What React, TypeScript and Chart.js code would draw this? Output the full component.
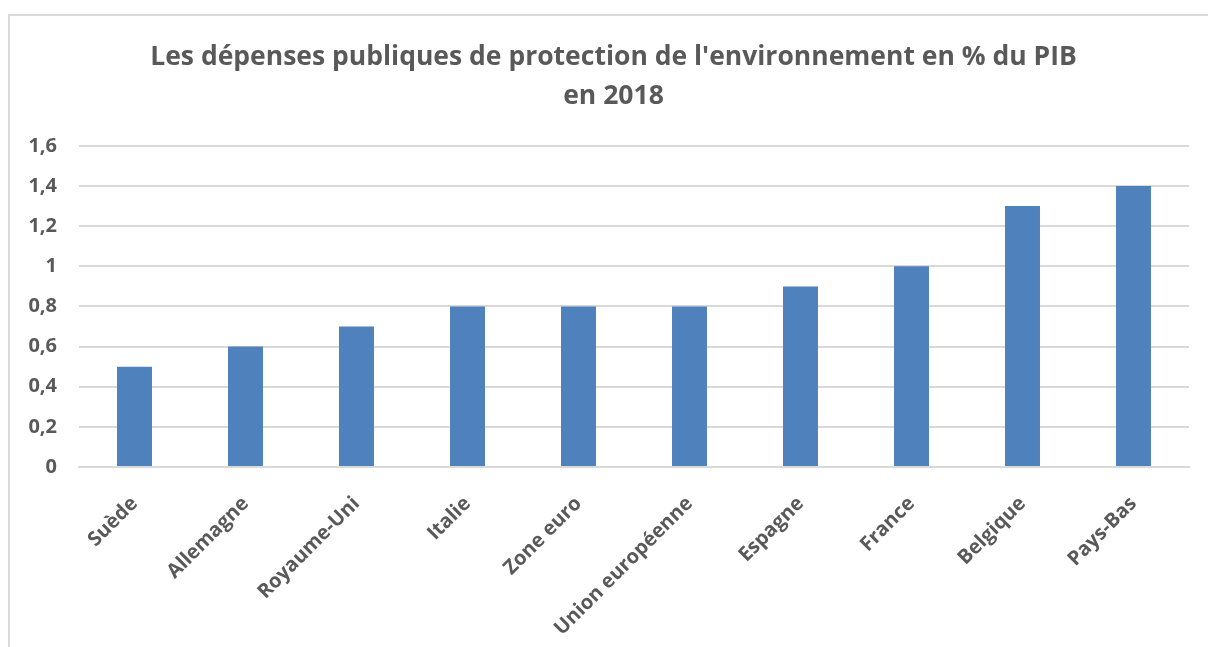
import React, { useEffect, useRef } from "react";
import { Chart, registerables } from "chart.js";

Chart.register(...registerables);

const categories = [
  "Suède",
  "Allemagne",
  "Royaume-Uni",
  "Italie",
  "Zone euro",
  "Union européenne",
  "Espagne",
  "France",
  "Belgique",
  "Pays-Bas",
];
const values = [0.5, 0.6, 0.7, 0.8, 0.8, 0.8, 0.9, 1.0, 1.3, 1.4];
const titleLines = [
  "Les dépenses publiques de protection de l'environnement en % du PIB",
  "en 2018",
];
const yMin = 0;
const yMax = 1.6;
const yStep = 0.2;

const W = 1208;
const H = 647;
const FONT = "'Open Sans', Lato, sans-serif";
const TEXT = "#595959";

const titleShift = {
  id: "titleShift",
  afterLayout(chart: any) {
    const tb = chart.titleBlock;
    if (tb) {
      tb.left = 38;
      tb.right = 1189;
    }
  },
};

export default function App() {
  const ref = useRef<HTMLCanvasElement | null>(null);

  useEffect(() => {
    document.body.style.overflow = "hidden";
    const ctx = ref.current!.getContext("2d")!;
    const chart = new Chart(ctx, {
      type: "bar",
      data: {
        labels: categories,
        datasets: [
          {
            data: values,
            backgroundColor: "#4f81bd",
            borderWidth: 0,
            categoryPercentage: 1,
            barPercentage: 0.315,
          },
        ],
      },
      plugins: [titleShift],
      options: {
        animation: false,
        responsive: false,
        devicePixelRatio: 1,
        layout: { padding: { left: 0, right: 19, top: 0, bottom: 0 } },
        plugins: {
          legend: { display: false },
          tooltip: { enabled: false },
          title: {
            display: true,
            text: titleLines,
            color: TEXT,
            font: { family: FONT, size: 26.5, weight: "bold", lineHeight: 1.47 },
            padding: { top: 38, bottom: 30 },
          },
        },
        scales: {
          x: {
            grid: { display: false, drawTicks: false },
            border: { color: "#d9d9d9", width: 2 },
            ticks: {
              color: TEXT,
              font: { family: FONT, size: 20, weight: "bold" },
              maxRotation: 45,
              minRotation: 45,
              autoSkip: false,
              padding: 25,
            },
            afterFit: (scale: any) => {
              scale.height = H - 467;
            },
          },
          y: {
            min: yMin,
            max: yMax,
            grid: { color: "#d9d9d9", lineWidth: 2, drawTicks: false },
            border: { display: false },
            ticks: {
              stepSize: yStep,
              color: TEXT,
              padding: 22,
              font: { family: FONT, size: 20, weight: "bold" },
              callback: (v: any) => String(Math.round(Number(v) * 10) / 10).replace(".", ","),
            },
            afterFit: (scale: any) => {
              scale.width = 79;
            },
          },
        },
      },
    });
    return () => chart.destroy();
  }, []);

  return (
    <div
      style={{
        position: "fixed",
        left: 0,
        top: 0,
        width: W,
        height: H,
        overflow: "hidden",
        background: "#ffffff",
      }}
    >
      <div
        style={{
          position: "absolute",
          left: 8,
          top: 14,
          width: 1400,
          height: 900,
          border: "2px solid #d9d9d9",
        }}
      />
      <canvas
        ref={ref}
        width={W}
        height={H}
        style={{ position: "absolute", left: 0, top: 0, width: W, height: H }}
      />
    </div>
  );
}
